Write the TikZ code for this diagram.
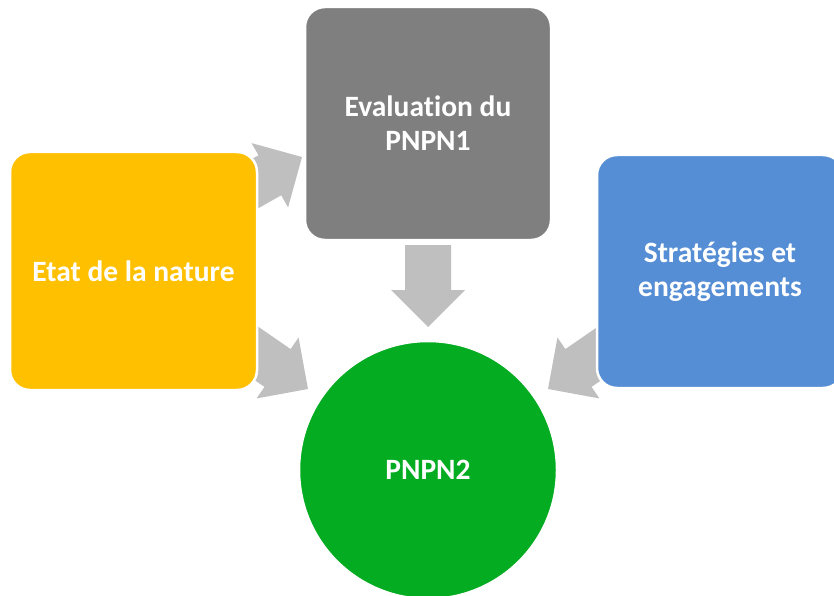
\documentclass[tikz,border=0pt]{standalone}
\usepackage{fontspec}
\setmainfont{Carlito}[Ligatures={NoCommon,NoContextual}]
\definecolor{cyellow}{HTML}{FFC000}
\definecolor{cgray}{HTML}{7F7F7F}
\definecolor{cblue}{HTML}{558ED5}
\definecolor{cgreen}{HTML}{03AC21}
\definecolor{carrow}{HTML}{BFBFBF}
\tikzset{
  box/.style={draw=white, line width=2.5pt, rounded corners=20pt, text=white,
    font=\fontsize{29.5}{34}\selectfont\bfseries, align=center, inner sep=0pt},
  roundbox/.style={draw=white, line width=2.5pt, circle, text=white,
    font=\fontsize{29.5}{34}\selectfont\bfseries, align=center, inner sep=0pt},
  blockarrow/.style={fill=carrow, draw=none}
}
\newcommand{\blockarr}[3]{% tip, angle, shaft length
  \begin{scope}[shift={(#1)}, rotate=#2]
    \fill[blockarrow] (0,0) -- (-37,37) -- (-37,23) -- (-37-#3,23)
      -- (-37-#3,-23) -- (-37,-23) -- (-37,-37) -- cycle;
  \end{scope}}
\begin{document}
\begin{tikzpicture}[x=1pt,y=-1pt]
  \useasboundingbox (0,0) rectangle (834,596);
  \clip (0,0) rectangle (834,596);
  % arrow tips
  \coordinate (tipA) at (302,157);
  \coordinate (tipB) at (428,327);
  \coordinate (tipC) at (308,389);
  \coordinate (tipD) at (548,389);
  \blockarr{tipA}{29.6}{50}
  \blockarr{tipB}{-90}{45}
  \blockarr{tipC}{-34.6}{50}
  \blockarr{tipD}{214.6}{50}
  % boxes
  \node[box, fill=cyellow, minimum width=247pt, minimum height=238pt] (etat) at (133.5,271) {Etat de la nature};
  \node[box, fill=cgray, minimum width=246pt, minimum height=233pt] (eval) at (428,123.5) {Evaluation du\\PNPN1};
  \node[box, fill=cblue, minimum width=246pt, minimum height=233pt] (strat) at (720,271.5) {Stratégies et\\engagements};
  \node[roundbox, fill=cgreen, minimum size=258pt] (pnpn) at (428,470) {PNPN2};
\end{tikzpicture}
\end{document}
